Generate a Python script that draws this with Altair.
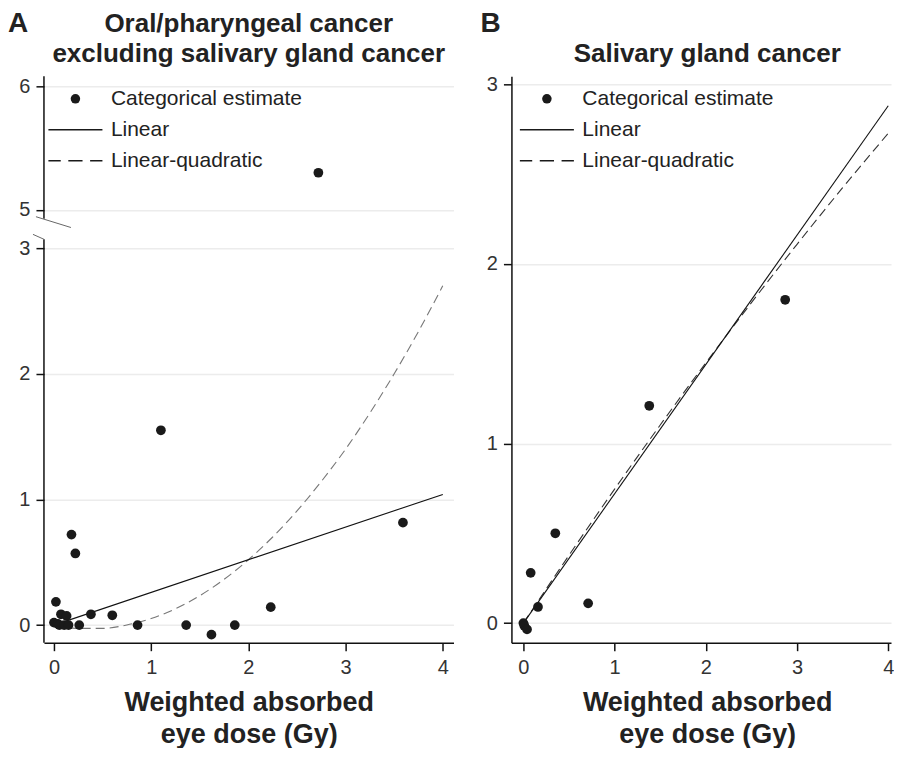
import altair as alt
import pandas as pd

FONT = "Liberation Sans"

# ---------------- Panel A: Oral/pharyngeal cancer excluding salivary gland cancer
a_pts_x = [0.0, 0.04, 0.055, 0.072, 0.105, 0.13, 0.15, 0.02, 0.18, 0.22, 0.26,
           0.38, 0.60, 0.86, 1.10, 1.36, 1.62, 1.86, 2.23, 3.59, 2.72]
a_pts_y = [0.02, 0.01, 0.0, 0.086, 0.0, 0.073, 0.0, 0.185, 0.72, 0.57, 0.0,
           0.086, 0.078, 0.0, 1.55, 0.0, -0.076, 0.0, 0.143, 0.815, 5.30]
a_lin_x = [0.0, 4.0]
a_lin_y = [0.0, 1.04]
a_lq_x = [0.0, 0.25, 0.5, 0.75, 1.0, 1.25, 1.5, 1.75, 2.0, 2.25, 2.5, 2.75,
          3.0, 3.25, 3.5, 3.75, 4.0]
a_lq_y = [0.0, -0.026, -0.026, 0.001, 0.053, 0.130, 0.234, 0.364, 0.52, 0.701,
          0.909, 1.143, 1.40, 1.688, 2.000, 2.337, 2.70]
a_y_ticks = [0, 1, 2, 3, 5, 6]
a_y_domain = [-0.14, 3.07, 4.929, 6.079]   # broken axis: lower part, gap, upper part
a_x_domain = [-0.103, 4.11]

# ---------------- Panel B: Salivary gland cancer
b_pts_x = [0.0, 0.01, 0.04, 0.08, 0.16, 0.35, 0.71, 1.38, 2.87]
b_pts_y = [0.0, -0.015, -0.035, 0.28, 0.09, 0.50, 0.11, 1.21, 1.80]
b_lin_x = [0.0, 4.0]
b_lin_y = [0.0, 2.88]
b_lq_x = [0.0, 0.5, 1.0, 1.5, 2.0, 2.5, 3.0, 3.5, 4.0]
b_lq_y = [0.0, 0.378, 0.746, 1.103, 1.449, 1.784, 2.109, 2.424, 2.727]
b_y_ticks = [0, 1, 2, 3]
b_y_domain = [-0.109, 3.044]
b_x_domain = [-0.131, 4.03]

x_ticks = [0, 1, 2, 3, 4]
series = ["Categorical estimate", "Linear", "Linear-quadratic"]
titles = ["Oral/pharyngeal cancer\nexcluding salivary gland cancer",
          "Salivary gland cancer"]
letters = ["A", "B"]
x_title = ["Weighted absorbed", "eye dose (Gy)"]

# legend symbols: circle, solid line, dashed line (thin filled bars as custom paths)
shape_range = [
    "circle",
    "M-5.7,-0.17H5.7V0.17H-5.7Z",
    "M-5.7,-0.17H-3.1V0.17H-5.7Z M-1.5,-0.17H1.5V0.17H-1.5Z M3.1,-0.17H5.7V0.17H3.1Z",
]

W_A, W_B, H = 410, 380, 567
K = H / 577.0


def legend(lx):
    return alt.Legend(title=None, orient="none", legendX=lx, legendY=12,
                      symbolSize=90, symbolFillColor="#111",
                      symbolStrokeWidth=0,
                      labelFontSize=21, labelFont=FONT, labelColor="#222",
                      labelOffset=25, labelLimit=0, rowPadding=9, padding=0)


def panel(px, py, lx, ly, qx, qy, xdom, yscale, yticks, width, title, letter,
          lq_color, broken, title_cx, title_y, letter_x, leg_x):
    pts = pd.DataFrame({"x": px, "y": py, "series": series[0]})
    lin = pd.DataFrame({"x": lx, "y": ly})
    lq = pd.DataFrame({"x": qx, "y": qy})
    xs = alt.Scale(domain=xdom, nice=False, zero=False)
    xax = alt.Axis(values=x_ticks, format="d", title=x_title, grid=False,
                   labelPadding=7, titlePadding=12, titleX=title_cx)
    yax = alt.Axis(values=yticks, format="d", title=None, grid=True,
                   domain=not broken, labelPadding=6)

    base_pts = alt.Chart(pts).mark_point(filled=True, size=95, opacity=1,
                                         color="#1a1a1a").encode(
        x=alt.X("x:Q", scale=xs, axis=xax),
        y=alt.Y("y:Q", scale=yscale, axis=yax),
        shape=alt.Shape("series:N", scale=alt.Scale(domain=series, range=shape_range),
                        legend=legend(leg_x)),
    )
    line_lin = alt.Chart(lin).mark_line(color="#111", strokeWidth=1.1).encode(
        x=alt.X("x:Q", scale=xs), y=alt.Y("y:Q", scale=yscale))
    line_lq = alt.Chart(lq).mark_line(color=lq_color, strokeWidth=1.1,
                                      strokeDash=[9, 5], interpolate="monotone").encode(
        x=alt.X("x:Q", scale=xs), y=alt.Y("y:Q", scale=yscale))

    lab = alt.Chart(pd.DataFrame({"t": [letter]})).mark_text(
        font=FONT, fontSize=28, fontWeight="bold", align="left",
        baseline="alphabetic", color="#222").encode(
        text="t:N", x=alt.value(letter_x), y=alt.value(-44))
    ttl = alt.Chart(pd.DataFrame({"t": [title]})).mark_text(
        font=FONT, fontSize=26, fontWeight="bold", align="center",
        baseline="alphabetic", color="#222", lineBreak="\n", lineHeight=30).encode(
        text="t:N", x=alt.value(title_cx), y=alt.value(title_y))

    layers = [line_lq, line_lin, base_pts, lab, ttl]
    if broken:
        seg = pd.DataFrame({"y1": [a_y_domain[0], a_y_domain[2]],
                            "y2": [a_y_domain[1], a_y_domain[3]]})
        axis_rules = alt.Chart(seg).mark_rule(color="#111", strokeWidth=1.5).encode(
            x=alt.value(0), y=alt.Y("y1:Q", scale=yscale), y2="y2:Q")
        brk = pd.DataFrame({"k": [0]})
        br1 = alt.Chart(brk).mark_rule(color="#666", strokeWidth=1).encode(
            x=alt.value(-8), x2=alt.value(27), y=alt.value(143 * K), y2=alt.value(154 * K))
        br2 = alt.Chart(brk).mark_rule(color="#666", strokeWidth=1).encode(
            x=alt.value(-11), x2=alt.value(0), y=alt.value(161 * K), y2=alt.value(166 * K))
        layers = [axis_rules, br1, br2] + layers

    return alt.layer(*layers).properties(width=width, height=H)


ys_a = alt.Scale(domain=a_y_domain, range=[H, 166 * K, 145 * K, 0], nice=False, zero=False)
ys_b = alt.Scale(domain=b_y_domain, nice=False, zero=False)

chart_a = panel(a_pts_x, a_pts_y, a_lin_x, a_lin_y, a_lq_x, a_lq_y, a_x_domain,
                ys_a, a_y_ticks, W_A, titles[0], letters[0], "#777", True,
                205, -44, -36, 21)
chart_b = panel(b_pts_x, b_pts_y, b_lin_x, b_lin_y, b_lq_x, b_lq_y, b_x_domain,
                ys_b, b_y_ticks, W_B, titles[1], letters[1], "#333", False,
                196, -14, -31, 25)

chart = alt.hconcat(chart_a, chart_b, spacing=58, bounds="flush").resolve_scale(
    x="independent", y="independent", shape="independent"
).resolve_legend(shape="independent").properties(
    padding={"left": 0, "top": 2, "right": 0, "bottom": 0}
).configure_view(stroke=None).configure_axis(
    labelFont=FONT, labelFontSize=20, labelColor="#333",
    tickColor="#111", tickWidth=1.5, tickSize=8,
    domainColor="#111", domainWidth=1.5,
    titleFont=FONT, titleFontSize=27, titleFontWeight="bold", titleColor="#222",
    titleLineHeight=32, gridColor="#ececec", gridWidth=1.5,
).configure_text(font=FONT)

chart.save("out.html", embed_options={"renderer": "svg", "actions": False})
